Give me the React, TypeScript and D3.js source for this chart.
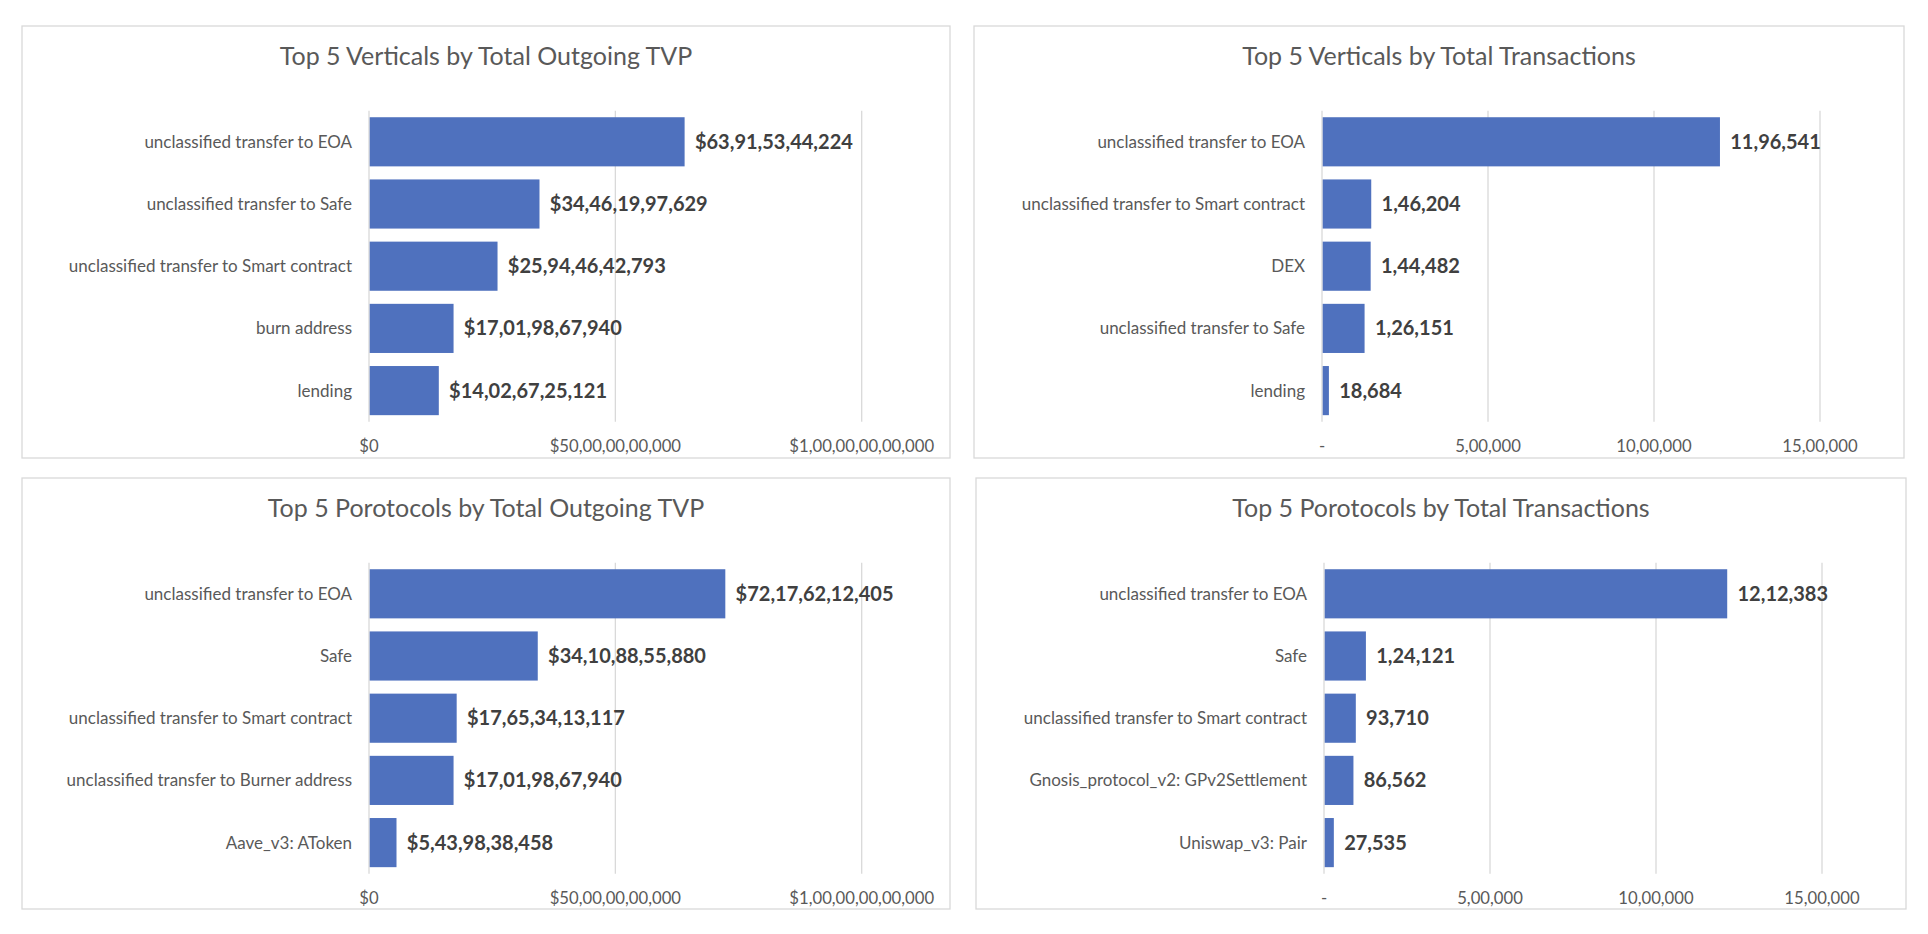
import React from 'react';
import * as d3 from 'd3';

// top 5 verticals by outgoing TVP
const verticalTvpCategories = [
  'unclassified transfer to EOA',
  'unclassified transfer to Safe',
  'unclassified transfer to Smart contract',
  'burn address',
  'lending',
];
const verticalTvpValues = [63915344224, 34461997629, 25944642793, 17019867940, 14026725121];

// top 5 verticals by transactions
const verticalTxCategories = [
  'unclassified transfer to EOA',
  'unclassified transfer to Smart contract',
  'DEX',
  'unclassified transfer to Safe',
  'lending',
];
const verticalTxValues = [1196541, 146204, 144482, 126151, 18684];

// top 5 protocols by outgoing TVP
const protocolTvpCategories = [
  'unclassified transfer to EOA',
  'Safe',
  'unclassified transfer to Smart contract',
  'unclassified transfer to Burner address',
  'Aave_v3: AToken',
];
const protocolTvpValues = [72176212405, 34108855880, 17653413117, 17019867940, 5439838458];

// top 5 protocols by transactions
const protocolTxCategories = [
  'unclassified transfer to EOA',
  'Safe',
  'unclassified transfer to Smart contract',
  'Gnosis_protocol_v2: GPv2Settlement',
  'Uniswap_v3: Pair',
];
const protocolTxValues = [1212383, 124121, 93710, 86562, 27535];

const tvpTicks = [0, 50000000000, 100000000000];
const txTicks = [0, 500000, 1000000, 1500000];

// indian digit grouping (lakh / crore)
const inLocale = d3.formatLocale({
  decimal: '.',
  thousands: ',',
  grouping: [3, 2, 2, 2, 2, 2, 2, 2, 2],
  currency: ['$', ''],
});
const fmtMoney = inLocale.format('$,.0f');
const fmtCount = inLocale.format(',.0f');
const fmtCountTick = (v: number) => (v === 0 ? '-' : fmtCount(v));

const FONT = 'Lato, "Open Sans", sans-serif';
const BAR = '#4f71be';
const GRID = '#d9d9d9';
const TEXT = '#595959';

type PanelProps = {
  left: number;
  top: number;
  width: number;
  height: number;
  title: string;
  categories: string[];
  values: number[];
  domainMax: number;
  ticks: number[];
  tickFormat: (v: number) => string;
  valueFormat: (v: number) => string;
  plotLeft: number;
  plotRight: number;
};

function BarPanel(p: PanelProps) {
  const x = d3.scaleLinear().domain([0, p.domainMax]).range([p.plotLeft, p.plotRight]);
  const y = d3
    .scaleBand()
    .domain(p.categories)
    .range([84.7, 395.7])
    .paddingInner(0.21)
    .paddingOuter(0.105);
  const bw = y.bandwidth();

  return (
    <g transform={`translate(${p.left},${p.top})`}>
      <rect x={0} y={0} width={p.width} height={p.height} fill="#fff" stroke={GRID} strokeWidth={1.3} />
      <text
        x={p.width / 2}
        y={30}
        dy="0.35em"
        textAnchor="middle"
        fill={TEXT}
        fontSize={25}
        fontFamily={FONT}
      >
        {p.title}
      </text>
      {p.ticks.map(t => (
        <g key={t}>
          <line x1={x(t)} x2={x(t)} y1={84.7} y2={395.7} stroke={GRID} strokeWidth={1.3} />
          <text
            x={x(t)}
            y={420}
            dy="0.35em"
            textAnchor="middle"
            fill={TEXT}
            fontSize={16.7}
            fontFamily={FONT}
          >
            {p.tickFormat(t)}
          </text>
        </g>
      ))}
      {p.categories.map((c, i) => {
        const yy = y(c)!;
        return (
          <g key={c}>
            <rect x={x(0) + 0.7} y={yy} width={x(p.values[i]) - x(0)} height={bw} fill={BAR} />
            <text
              x={p.plotLeft - 17}
              y={yy + bw / 2}
              dy="0.35em"
              textAnchor="end"
              fill={TEXT}
              fontSize={17}
              fontFamily={FONT}
            >
              {c}
            </text>
            <text
              x={x(p.values[i]) + 11}
              y={yy + bw / 2}
              dy="0.35em"
              fill="#404040"
              fontSize={20}
              fontWeight="bold"
              fontFamily={FONT}
            >
              {p.valueFormat(p.values[i])}
            </text>
          </g>
        );
      })}
    </g>
  );
}

export default function App() {
  return (
    <svg
      width={1928}
      height={934}
      style={{ position: 'absolute', left: 0, top: 0, background: '#fff' }}
    >
      <rect width={1928} height={934} fill="#fff" />
      <BarPanel
        left={22}
        top={26}
        width={928}
        height={432}
        title="Top 5 Verticals by Total Outgoing TVP"
        categories={verticalTvpCategories}
        values={verticalTvpValues}
        domainMax={100000000000}
        ticks={tvpTicks}
        tickFormat={fmtMoney}
        valueFormat={fmtMoney}
        plotLeft={347}
        plotRight={839.7}
      />
      <BarPanel
        left={974}
        top={26}
        width={930}
        height={432}
        title="Top 5 Verticals by Total Transactions"
        categories={verticalTxCategories}
        values={verticalTxValues}
        domainMax={1500000}
        ticks={txTicks}
        tickFormat={fmtCountTick}
        valueFormat={fmtCount}
        plotLeft={348}
        plotRight={846}
      />
      <BarPanel
        left={22}
        top={478}
        width={928}
        height={431}
        title="Top 5 Porotocols by Total Outgoing TVP"
        categories={protocolTvpCategories}
        values={protocolTvpValues}
        domainMax={100000000000}
        ticks={tvpTicks}
        tickFormat={fmtMoney}
        valueFormat={fmtMoney}
        plotLeft={347}
        plotRight={839.7}
      />
      <BarPanel
        left={976}
        top={478}
        width={930}
        height={431}
        title="Top 5 Porotocols by Total Transactions"
        categories={protocolTxCategories}
        values={protocolTxValues}
        domainMax={1500000}
        ticks={txTicks}
        tickFormat={fmtCountTick}
        valueFormat={fmtCount}
        plotLeft={348}
        plotRight={846}
      />
    </svg>
  );
}
